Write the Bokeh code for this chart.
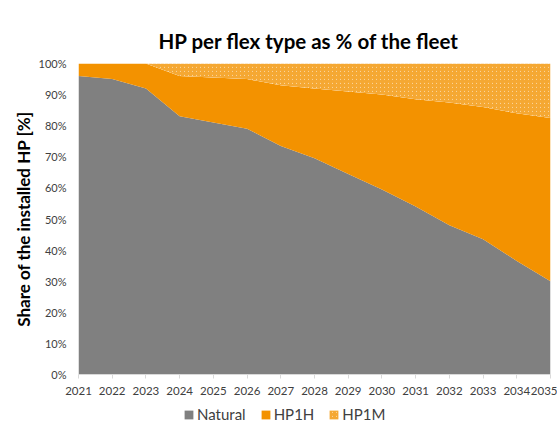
from bokeh.plotting import figure
from bokeh.layouts import column
from bokeh.models import ColumnDataSource, FixedTicker, PrintfTickFormatter, Legend, Range1d
from bokeh.embed import file_html
from bokeh.resources import INLINE

years = list(range(2021, 2036))
natural = [96, 95, 92, 83, 81, 79, 73.5, 69.5, 64.5, 59.5, 54, 48, 43.5, 36.5, 30]
hp1h = [4, 5, 8, 13, 14.5, 16, 19.5, 22.5, 26.5, 30.5, 34.5, 39.5, 42.5, 47.5, 52.5]
hp1m = [0, 0, 0, 4, 4.5, 5, 7, 8, 9, 10, 11.5, 12.5, 14, 16, 17.5]
series = ["Natural", "HP1H", "HP1M"]
y_ticks = list(range(0, 101, 10))

GRAY = "#808080"
ORANGE = "#F39200"
FONT = "Lato"
colors = [GRAY, ORANGE, "white"]

src = ColumnDataSource(dict(year=years, natural=natural, hp1h=hp1h, hp1m=hp1m))

p = figure(width=557, height=400, output_backend="svg", toolbar_location=None,
           x_range=Range1d(2021, 2035), y_range=Range1d(0, 100),
           min_border_left=78, min_border_right=7, min_border_top=63, min_border_bottom=26)
p.outline_line_color = None
p.background_fill_color = "white"
p.border_fill_color = "white"
p.xgrid.visible = False
p.ygrid.visible = False


def style_hatch(glyph):
    glyph.hatch_pattern = "\\"
    glyph.hatch_color = ORANGE
    glyph.hatch_scale = 4
    glyph.hatch_weight = 1.8
    glyph.hatch_alpha = 0.8


rs = p.varea_stack(["natural", "hp1h", "hp1m"], x="year", source=src, color=colors)
style_hatch(rs[2].glyph)

p.title.text = "HP per flex type as % of the fleet"
p.title.align = "left"
p.title.text_font = FONT
p.title.text_font_style = "bold"
p.title.text_font_size = "20.5px"
p.title.text_color = "black"
p.title.offset = 80
p.title.standoff = 21

p.yaxis.ticker = FixedTicker(ticks=y_ticks)
p.yaxis.formatter = PrintfTickFormatter(format="%d%%")
p.yaxis.axis_line_color = None
p.yaxis.major_tick_line_color = None
p.yaxis.minor_tick_line_color = None
p.yaxis.major_label_text_font = FONT
p.yaxis.major_label_text_font_size = "11px"
p.yaxis.major_label_text_color = "#404040"
p.yaxis.major_label_standoff = 6
p.yaxis.axis_label = "Share of the installed HP [%]"
p.yaxis.axis_label_text_font = FONT
p.yaxis.axis_label_text_font_style = "bold"
p.yaxis.axis_label_text_font_size = "17px"
p.yaxis.axis_label_text_color = "black"
p.yaxis.axis_label_standoff = 2

p.xaxis.ticker = FixedTicker(ticks=years)
p.xaxis.axis_line_color = "#D9D9D9"
p.xaxis.major_tick_line_color = "#D9D9D9"
p.xaxis.major_tick_out = 4
p.xaxis.major_tick_in = 0
p.xaxis.minor_tick_line_color = None
p.xaxis.major_label_text_font = FONT
p.xaxis.major_label_text_font_size = "11.5px"
p.xaxis.major_label_text_color = "#404040"
p.xaxis.major_label_standoff = 8

# Legend in its own strip under the chart (swatch glyphs sit outside the visible range)
lg = figure(width=557, height=27, output_backend="svg", toolbar_location=None,
            x_range=Range1d(0, 1), y_range=Range1d(0, 1),
            x_axis_type=None, y_axis_type=None, min_border=0)
lg.outline_line_color = None
lg.xgrid.visible = False
lg.ygrid.visible = False
lrs = []
for i, c in enumerate(colors):
    r = lg.quad(left=[-3], right=[-2], bottom=[-3], top=[-2], fill_color=c, line_color=None)
    if i == 2:
        style_hatch(r.glyph)
    lrs.append(r)

legend = Legend(items=[(s, [r]) for s, r in zip(series, lrs)],
                orientation="horizontal", location=(105, 4))
legend.label_text_font = FONT
legend.label_text_font_size = "15px"
legend.label_text_color = "#404040"
legend.glyph_width = 11
legend.glyph_height = 11
legend.label_standoff = 3
legend.spacing = 14
legend.padding = 2
legend.margin = 0
legend.border_line_color = None
legend.background_fill_alpha = 0
lg.add_layout(legend)

layout = column(p, lg, spacing=0)
open("out.html", "w").write(file_html(layout, INLINE))
